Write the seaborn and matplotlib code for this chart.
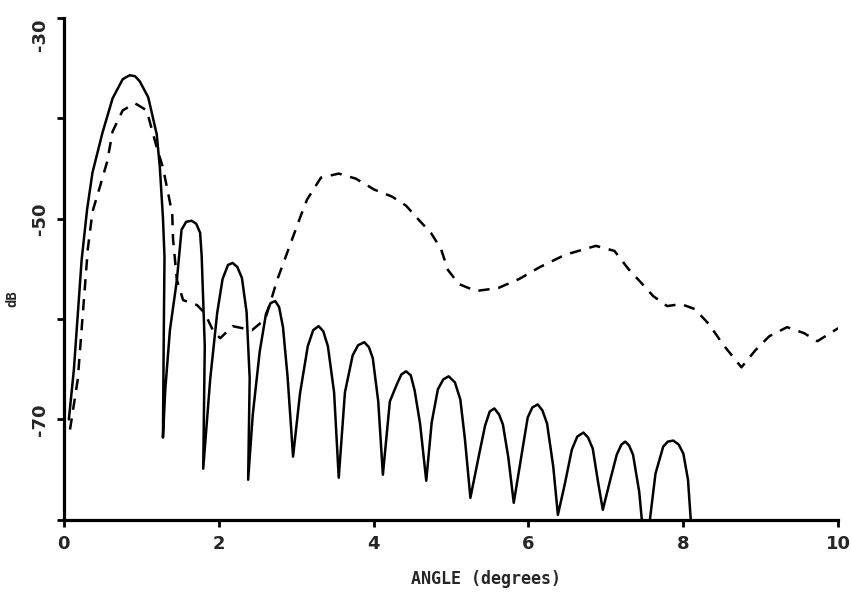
import matplotlib
matplotlib.use("Agg")
import matplotlib.pyplot as plt
import seaborn as sns
import pandas as pd

# ---- data (angle in degrees, level in dB) ----
solid_angle = [0.065, 0.13, 0.23, 0.30, 0.37, 0.50, 0.63, 0.76, 0.85, 0.92, 0.98, 1.09, 1.20, 1.24, 1.28, 1.30, 1.29, 1.28,
               1.31, 1.37, 1.46, 1.52, 1.58, 1.65, 1.71, 1.76, 1.78, 1.82, 1.80,
               1.89, 1.98, 2.05, 2.12, 2.18, 2.24, 2.30, 2.36, 2.40, 2.38,
               2.44, 2.53, 2.61, 2.67, 2.73, 2.78, 2.83, 2.89, 2.96,
               3.05, 3.15, 3.22, 3.29, 3.35, 3.41, 3.49, 3.55,
               3.63, 3.73, 3.80, 3.88, 3.94, 3.99, 4.06, 4.12,
               4.21, 4.30, 4.36, 4.42, 4.48, 4.53, 4.60, 4.68,
               4.75, 4.83, 4.90, 4.97, 5.05, 5.12, 5.18, 5.25,
               5.37, 5.44, 5.50, 5.56, 5.62, 5.67, 5.74, 5.81,
               5.92, 5.99, 6.05, 6.12, 6.18, 6.24, 6.32, 6.38,
               6.47, 6.56, 6.63, 6.71, 6.77, 6.83, 6.90, 6.96,
               7.05, 7.14, 7.20, 7.25, 7.30, 7.35, 7.43, 7.47, 7.50,
               7.53, 7.56, 7.64, 7.74, 7.80, 7.87, 7.94, 8.00, 8.06, 8.10, 8.12]
solid_db = [-70.0, -65.0, -54.1, -49.1, -45.4, -41.4, -38.0, -36.1, -35.7, -35.8, -36.3, -37.9, -41.6, -44.9, -49.9, -53.8, -62.0, -71.8,
            -67.0, -61.1, -56.1, -51.1, -50.3, -50.2, -50.5, -51.4, -53.7, -62.7, -74.9,
            -66.0, -59.4, -56.0, -54.6, -54.4, -54.8, -55.9, -59.3, -65.9, -76.0,
            -69.5, -63.2, -59.5, -58.4, -58.2, -58.8, -60.8, -65.8, -73.7,
            -67.4, -62.7, -61.1, -60.7, -61.2, -62.7, -67.3, -75.8,
            -67.3, -63.6, -62.6, -62.3, -62.8, -63.9, -68.2, -75.5,
            -68.2, -66.5, -65.5, -65.2, -65.6, -67.1, -70.4, -76.1,
            -70.3, -67.0, -66.0, -65.7, -66.3, -68.0, -72.0, -77.8,
            -73.2, -70.6, -69.2, -68.9, -69.5, -70.5, -73.8, -78.3,
            -73.1, -69.8, -68.8, -68.5, -69.1, -70.4, -74.7, -79.5,
            -76.4, -73.0, -71.7, -71.3, -71.8, -72.9, -76.3, -79.0,
            -76.2, -73.5, -72.5, -72.2, -72.6, -73.5, -77.2, -80.5, -82.0,
            -82.0, -80.5, -75.4, -72.7, -72.2, -72.1, -72.5, -73.4, -76.0, -80.5, -82.0]

dash_angle = [0.08, 0.18, 0.26, 0.31, 0.37, 0.47, 0.56, 0.63, 0.76, 0.92, 1.07, 1.20, 1.28, 1.34, 1.40, 1.41,
              1.46, 1.54, 1.72, 1.82, 1.93, 2.02, 2.18, 2.43, 2.60, 2.70, 2.75, 3.05,
              3.14, 3.32, 3.55, 3.77, 4.01, 4.24, 4.42, 4.57, 4.74, 4.87, 4.96, 5.10,
              5.32, 5.61, 5.88, 6.15, 6.47, 6.87, 7.11, 7.29, 7.47, 7.61, 7.79, 7.97,
              8.15, 8.33, 8.51, 8.75, 8.93, 9.11, 9.34, 9.56, 9.73, 10.0]
dash_db = [-71.0, -66.0, -58.0, -53.0, -49.3, -46.7, -44.3, -41.3, -39.2, -38.5, -39.2, -42.9, -44.9, -47.2, -49.5, -52.0,
           -56.1, -58.1, -58.6, -59.4, -61.2, -61.9, -60.7, -61.1, -60.0, -57.5, -56.2, -49.9,
           -48.1, -45.9, -45.5, -46.0, -47.1, -47.8, -48.7, -50.0, -51.4, -53.0, -55.1, -56.5,
           -57.2, -56.9, -56.0, -54.8, -53.6, -52.7, -53.2, -55.0, -56.5, -57.7, -58.7, -58.5,
           -59.0, -60.5, -62.5, -64.8, -63.1, -61.7, -60.8, -61.4, -62.2, -60.9]

x_ticks = [0, 2, 4, 6, 8, 10]
x_tick_labels = ["0", "2", "4", "6", "8", "10"]
y_ticks = [-80, -70, -60, -50, -40, -30]
y_tick_labels = ["", "-70", "", "-50", "", "-30"]

solid_df = pd.DataFrame({"angle": solid_angle, "db": solid_db})
dash_df = pd.DataFrame({"angle": dash_angle, "db": dash_db})

sns.set_style("ticks")
plt.rcParams["font.family"] = ["DejaVu Sans"]

fig = plt.figure(figsize=(8.51, 6.01), dpi=100)
ax = fig.add_axes([0.075, 0.135, 0.91, 0.835])

sns.lineplot(data=solid_df, x="angle", y="db", ax=ax, color="black", linewidth=1.8,
             sort=False, estimator=None)
sns.lineplot(data=dash_df, x="angle", y="db", ax=ax, color="black", linewidth=1.8,
             sort=False, estimator=None, linestyle=(0, (4.5, 3.5)))
for ln in ax.get_lines():
    ln.set_solid_joinstyle("round")
    ln.set_dash_joinstyle("round")

ax.set_xlim(0, 10)
ax.set_ylim(-80, -30)
ax.set_xticks(x_ticks)
ax.set_xticklabels(x_tick_labels, fontsize=13, fontweight="bold")
ax.set_yticks(y_ticks)
ax.set_yticklabels(y_tick_labels, fontsize=13, fontweight="bold", rotation=90, va="center")
ax.get_yticklabels()[-1].set_va("top")

for side in ["top", "right"]:
    ax.spines[side].set_visible(False)
for side in ["left", "bottom"]:
    ax.spines[side].set_linewidth(2.3)
    ax.spines[side].set_color("black")
ax.tick_params(axis="both", direction="out", length=5, width=2, color="black", pad=6)

ax.set_xlabel("ANGLE (degrees)", fontsize=12, fontweight="bold", family=["DejaVu Sans Mono"])
ax.xaxis.set_label_coords(0.545, -0.1)
ax.set_ylabel("dB", fontsize=10, fontweight="bold", family=["DejaVu Sans Mono"])
ax.yaxis.set_label_coords(-0.058, 0.44)

fig.savefig("out.png", dpi=100, facecolor="white")
